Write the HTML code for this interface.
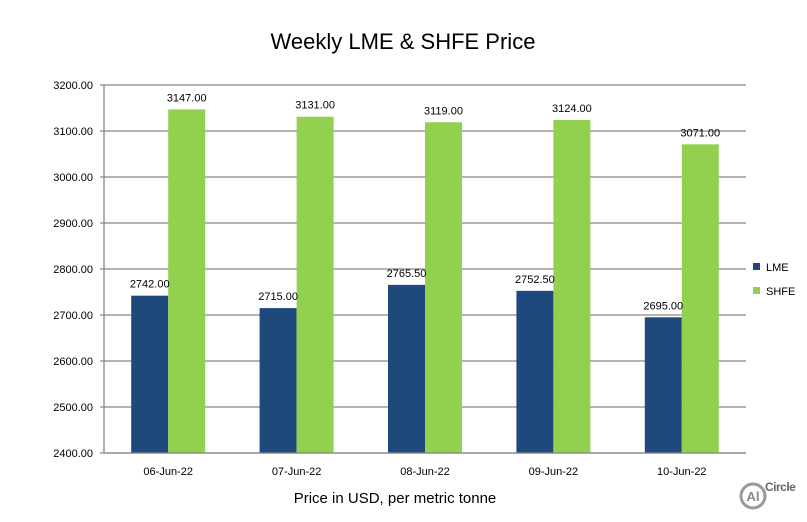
<!DOCTYPE html>
<html><head><meta charset="utf-8"><style>
body{margin:0;background:#fff;}
svg text{font-family:"Liberation Sans",sans-serif;}
</style></head><body>
<svg id="c" width="807" height="517">
<text x="403" y="49" font-size="22" text-anchor="middle" fill="#000">Weekly LME &amp; SHFE Price</text>
<g id="grid"></g><g id="bars"></g><g id="labels"></g>
<text x="395" y="503" font-size="15" text-anchor="middle" fill="#000">Price in USD, per metric tonne</text>
<g>
<rect x="753" y="263" width="7" height="7" fill="#1F497D"/>
<text x="766" y="271" font-size="11">LME</text>
<rect x="753" y="287" width="7" height="7" fill="#92D050"/>
<text x="766" y="295" font-size="11">SHFE</text>
</g>
<g>
<circle cx="753" cy="496" r="12" fill="none" stroke="#999" stroke-width="3"/>
<text x="753" y="501" font-size="13" font-weight="bold" text-anchor="middle" fill="#888">Al</text>
<text x="765" y="491" font-size="12" font-weight="bold" fill="#666" letter-spacing="-0.5">Circle</text>
</g>
</svg>
<script>
const categories=["06-Jun-22","07-Jun-22","08-Jun-22","09-Jun-22","10-Jun-22"];
const lme=[2742,2715,2765.5,2752.5,2695];
const shfe=[3147,3131,3119,3124,3071];
const ticks=[2400,2500,2600,2700,2800,2900,3000,3100,3200];
const NS="http://www.w3.org/2000/svg";
const x0=104,x1=746,y0=453,y1=85,vmin=2400,vmax=3200;
const y=v=>y0-(v-vmin)/(vmax-vmin)*(y0-y1);
const bw=(x1-x0)/categories.length;
function mk(tag,attrs,parent,txt){const e=document.createElementNS(NS,tag);for(const k in attrs)e.setAttribute(k,attrs[k]);if(txt!==undefined)e.textContent=txt;parent.appendChild(e);return e;}
const g=document.getElementById('grid'),b=document.getElementById('bars'),lb=document.getElementById('labels');
ticks.forEach(t=>{
 const l=mk('line',{x1:100,x2:x1,y1:y(t),y2:y(t),stroke:'#868686','stroke-width':1.3},g);
 
 
 const tx=mk('text',{x:93,y:y(t)+4,'font-size':11,'text-anchor':'end'},g,t.toFixed(2));
 
 
});
const ax=mk('line',{x1:x0,x2:x0,y1:y1,y2:y0,stroke:'#868686','stroke-width':1.3},g);


categories.forEach((c,i)=>{
 const cx=x0+bw*(i+0.5),w=37;
 [[lme[i],cx-w,'#1F497D','bar-lme'],[shfe[i],cx,'#92D050','bar-shfe']].forEach(([v,xx,col,nm])=>{
  const r=mk('rect',{x:xx,y:y(v),width:w,height:y0-y(v),fill:col},b);
  
  
  const t=mk('text',{x:xx+w/2,y:y(v)-8,'font-size':11,'text-anchor':'middle'},lb,v.toFixed(2));
  
  
 });
 const xl=mk('text',{x:cx,y:475,'font-size':11,'text-anchor':'middle'},b,c);
 
 
});
const bl=mk('line',{x1:x0,x2:x1,y1:y0,y2:y0,stroke:'#868686','stroke-width':1.3},b);


</script>
</body></html>
